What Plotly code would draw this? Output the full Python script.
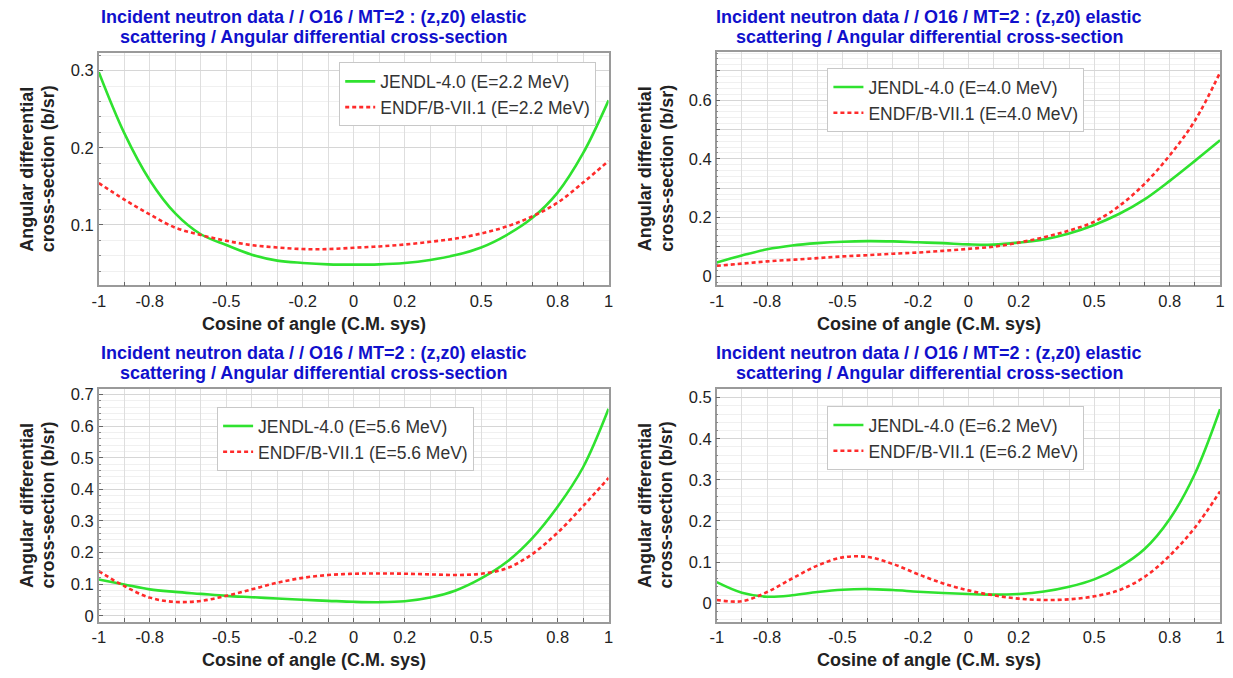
import plotly.graph_objects as go

# ---------------- data ----------------
x_cos = [-1.0, -0.9, -0.8, -0.7, -0.6, -0.5, -0.4, -0.3, -0.2, -0.1, 0.0,
         0.1, 0.2, 0.3, 0.4, 0.5, 0.6, 0.7, 0.8, 0.9, 1.0]

energies = ["2.2", "4.0", "5.6", "6.2"]

jendl_22 = [0.298, 0.219, 0.158, 0.115, 0.088, 0.074, 0.0615, 0.0538, 0.0508, 0.049, 0.0486,
            0.049, 0.0508, 0.0547, 0.061, 0.0709, 0.087, 0.109, 0.142, 0.193, 0.2615]
endf_22 = [0.1543, 0.133, 0.1137, 0.0965, 0.087, 0.0795, 0.0739, 0.0709, 0.0688, 0.0688, 0.0705,
           0.0722, 0.0747, 0.0782, 0.0824, 0.089, 0.098, 0.111, 0.129, 0.155, 0.183]

jendl_40 = [0.047, 0.071, 0.092, 0.105, 0.113, 0.118, 0.120, 0.119, 0.116, 0.113, 0.109,
            0.108, 0.115, 0.126, 0.146, 0.175, 0.213, 0.262, 0.325, 0.393, 0.463]
endf_40 = [0.036, 0.0433, 0.051, 0.0564, 0.062, 0.068, 0.0722, 0.077, 0.0812, 0.0868, 0.0936,
           0.101, 0.115, 0.133, 0.156, 0.186, 0.24, 0.315, 0.412, 0.53, 0.694]

jendl_56 = [0.115, 0.099, 0.0835, 0.0755, 0.0693, 0.063, 0.0588, 0.0546, 0.0505, 0.0473, 0.0442,
            0.043, 0.046, 0.0578, 0.080, 0.118, 0.170, 0.245, 0.345, 0.47, 0.655]
endf_56 = [0.141, 0.094, 0.0574, 0.0438, 0.047, 0.063, 0.0836, 0.1045, 0.12, 0.129, 0.133,
           0.134, 0.133, 0.131, 0.129, 0.133, 0.15, 0.195, 0.263, 0.347, 0.436]

jendl_62 = [0.0515, 0.0258, 0.016, 0.0193, 0.0273, 0.0329, 0.0345, 0.0321, 0.0281, 0.0249, 0.0225,
            0.0209, 0.0225, 0.0285, 0.0400, 0.058, 0.088, 0.132, 0.205, 0.315, 0.472]
endf_62 = [0.008, 0.005, 0.0273, 0.0602, 0.0916, 0.1116, 0.1124, 0.0956, 0.0707, 0.0482, 0.0313,
           0.0193, 0.0112, 0.008, 0.0096, 0.0169, 0.0321, 0.064, 0.116, 0.184, 0.272]

jendl_series = [jendl_22, jendl_40, jendl_56, jendl_62]
endf_series = [endf_22, endf_40, endf_56, endf_62]

x_tick_vals = [-1.0, -0.9, -0.8, -0.7, -0.6, -0.5, -0.4, -0.3, -0.2, -0.1, 0.0,
               0.1, 0.2, 0.3, 0.4, 0.5, 0.6, 0.7, 0.8, 0.9, 1.0]
x_tick_text = ["-1", "", "-0.8", "", "", "-0.5", "", "", "-0.2", "", "0",
               "", "0.2", "", "", "0.5", "", "", "0.8", "", "1"]

y_tick_vals = [
    [0.1, 0.2, 0.3],
    [0.0, 0.1, 0.2, 0.3, 0.4, 0.5, 0.6, 0.7],
    [0.0, 0.1, 0.2, 0.3, 0.4, 0.5, 0.6, 0.7],
    [0.0, 0.1, 0.2, 0.3, 0.4, 0.5],
]
y_tick_text = [
    ["0.1", "0.2", "0.3"],
    ["0", "", "0.2", "", "0.4", "", "0.6", ""],
    ["0", "0.1", "0.2", "0.3", "0.4", "0.5", "0.6", "0.7"],
    ["0", "0.1", "0.2", "0.3", "0.4", "0.5"],
]
y_ranges = [[0.0216, 0.3235], [-0.031, 0.765], [-0.019, 0.719], [-0.045, 0.522]]

title_line1 = "Incident neutron data / / O16 / MT=2 : (z,z0) elastic"
title_line2 = "scattering / Angular differential cross-section"
x_title = "Cosine of angle (C.M. sys)"
y_title1 = "Angular differential"
y_title2 = "cross-section (b/sr)"

# ---------------- layout geometry (pixels) ----------------
W, H = 1233, 678
FONT = "Liberation Sans, Arial, sans-serif"
GREEN = "#2fe22f"
RED = "#ff2b2b"
TITLE_BLUE = "#1010cc"

panels = [
    dict(x0=92.7, x1=607.5, y0=50, y1=285),
    dict(x0=716.7, x1=1225, y0=49, y1=285),
    dict(x0=92.7, x1=607.5, y0=389, y1=624.3),
    dict(x0=716.7, x1=1225, y0=389, y1=624.3),
]
legend_pos = [(595, 60), (1088, 65.7), (471.7, 407.7), (1088, 406.7)]


def px(x):
    return x / W


def py(y):
    return 1 - y / H


fig = go.Figure()
layout = dict(
    width=W, height=H,
    margin=dict(l=0, r=0, t=0, b=0),
    paper_bgcolor="white", plot_bgcolor="white",
    font=dict(family=FONT, color="#222"),
    annotations=[],
)

for i, p in enumerate(panels):
    k = "" if i == 0 else str(i + 1)
    xa, ya = "x" + k, "y" + k
    leg = "legend" + k
    e = energies[i]
    fig.add_trace(go.Scatter(
        x=x_cos, y=jendl_series[i], mode="lines", xaxis=xa, yaxis=ya,
        name=f"JENDL-4.0 (E={e} MeV)", legend=leg,
        line=dict(color=GREEN, width=2.6, shape="spline", smoothing=1.0)))
    fig.add_trace(go.Scatter(
        x=x_cos, y=endf_series[i], mode="lines", xaxis=xa, yaxis=ya,
        name=f"ENDF/B-VII.1 (E={e} MeV)", legend=leg,
        line=dict(color=RED, width=2.6, dash="4px,3px", shape="spline", smoothing=1.0)))

    layout["xaxis" + k] = dict(
        domain=[px(p["x0"]), px(p["x1"])], anchor=ya, range=[-1, 1],
        tickmode="array", tickvals=x_tick_vals, ticktext=x_tick_text,
        showgrid=True, gridcolor="#dedede", gridwidth=1,
        showline=True, linecolor="#9a9a9a", linewidth=1.5, mirror=True,
        ticks="inside", ticklen=4, tickcolor="#666", tickwidth=1,
        tickfont=dict(family=FONT, size=16.5, color="#222"),
        zeroline=False, fixedrange=True,
    )
    layout["yaxis" + k] = dict(
        domain=[py(p["y1"]), py(p["y0"])], anchor=xa, range=y_ranges[i],
        tickmode="array", tickvals=y_tick_vals[i], ticktext=y_tick_text[i],
        showgrid=True, gridcolor="#d6d6d6", gridwidth=1,
        minor=dict(dtick=0.02, showgrid=True, gridcolor="#f0f0f0",
                   ticks="inside", ticklen=2, tickcolor="#888"),
        showline=True, linecolor="#9a9a9a", linewidth=1.5, mirror=True,
        ticks="inside", ticklen=4, tickcolor="#666", tickwidth=1,
        tickfont=dict(family=FONT, size=16.5, color="#222"),
        zeroline=False, fixedrange=True,
    )
    lx, ly = legend_pos[i]
    layout[leg] = dict(
        x=px(lx), y=py(ly), xanchor="right", yanchor="top",
        xref="paper", yref="paper",
        bgcolor="white", bordercolor="#c8c8c8", borderwidth=1,
        font=dict(family=FONT, size=17.5, color="#333"),
        itemwidth=30, tracegroupgap=0,
    )

    # title (two centred lines, centred on the panel, left of plot centre)
    top_off = 0 if i < 2 else 339
    cx_data = -0.156
    cx = p["x0"] + (cx_data + 1) / 2 * (p["x1"] - p["x0"])
    for txt, yy in ((title_line1, 14 + top_off), (title_line2, 34 + top_off)):
        layout["annotations"].append(dict(
            text=f"<b>{txt}</b>", x=px(cx), y=py(yy), xref="paper", yref="paper",
            xanchor="center", yanchor="middle", showarrow=False,
            font=dict(family=FONT, size=18, color=TITLE_BLUE)))
    # x axis title
    layout["annotations"].append(dict(
        text=f"<b>{x_title}</b>", x=px(cx), y=py(p["y1"] + 38.5), xref="paper", yref="paper",
        xanchor="center", yanchor="middle", showarrow=False,
        font=dict(family=FONT, size=18, color="#222")))
    # y axis title (two rotated lines)
    cy = (p["y0"] + p["y1"]) / 2
    for txt, dx in ((y_title1, 72.7), (y_title2, 51)):
        layout["annotations"].append(dict(
            text=f"<b>{txt}</b>", x=px(p["x0"] - dx), y=py(cy), xref="paper", yref="paper",
            xanchor="center", yanchor="middle", showarrow=False, textangle=-90,
            font=dict(family=FONT, size=18, color="#222")))

fig.update_layout(**layout)
fig.write_html(
    "out.html",
    config={"displayModeBar": False},
    post_script="document.body.style.margin='0';document.documentElement.style.overflow='hidden';",
)
